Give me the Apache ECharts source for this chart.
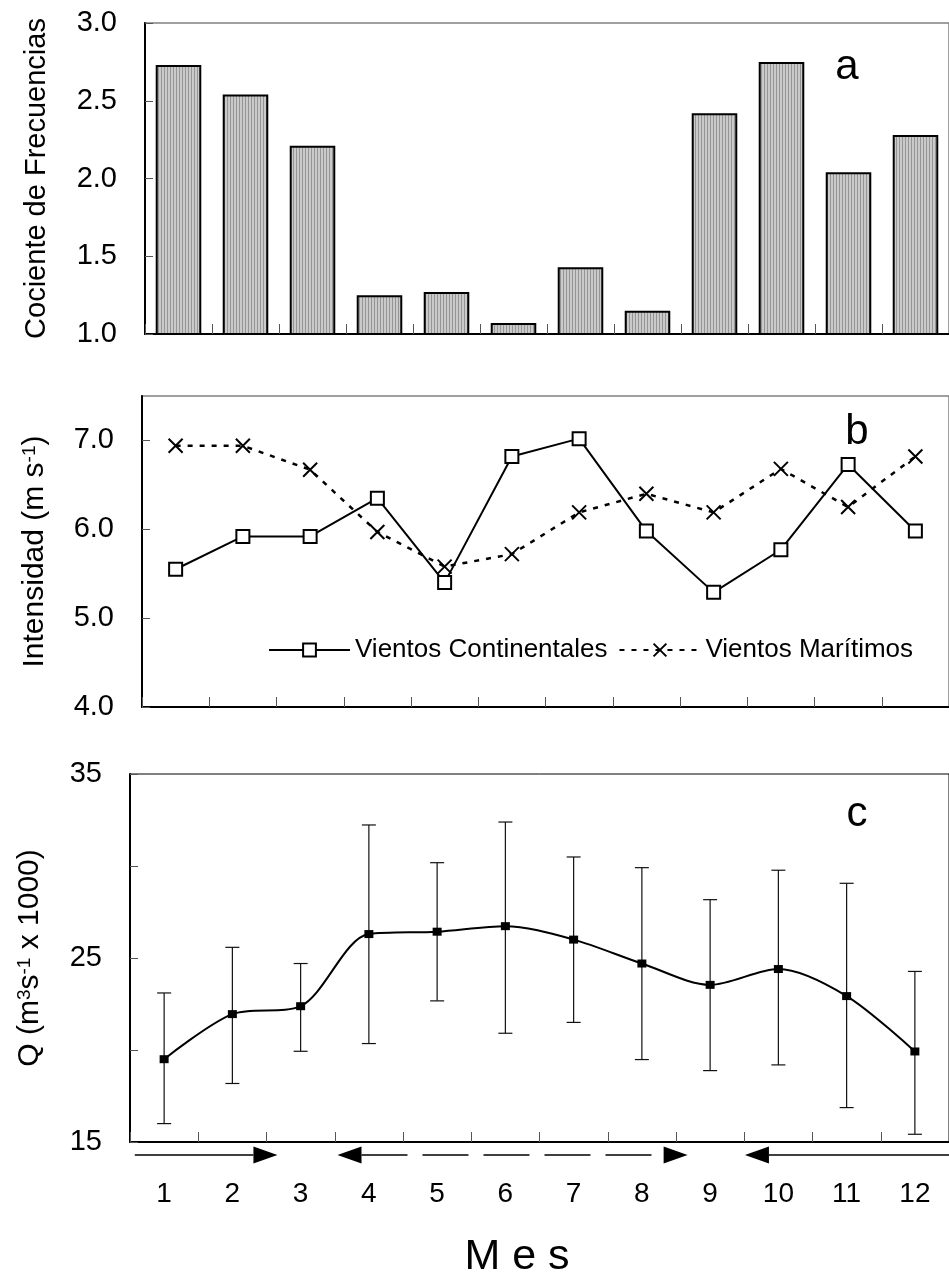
<!DOCTYPE html>
<html>
<head>
<meta charset="utf-8">
<script src="https://cdn.jsdelivr.net/npm/echarts@6/dist/echarts.min.js"></script>
<style>
    html, body { margin: 0; padding: 0; background: #fff; }
    #chart { width: 949px; height: 1276px; }
</style>
</head>
<body>
<div id="chart"></div>
<script>
// datos
const months = ['1', '2', '3', '4', '5', '6', '7', '8', '9', '10', '11', '12'];
const freqRatio = [2.73, 2.54, 2.21, 1.25, 1.27, 1.07, 1.43, 1.15, 2.42, 2.75, 2.04, 2.28];
const windContinental = [5.55, 5.92, 5.92, 6.35, 5.40, 6.82, 7.02, 5.98, 5.29, 5.77, 6.73, 5.98];
const windMaritime = [6.94, 6.94, 6.67, 5.97, 5.58, 5.72, 6.19, 6.40, 6.19, 6.68, 6.25, 6.82];
const flowMean = [19.5, 21.95, 22.38, 26.3, 26.43, 26.73, 26.0, 24.7, 23.54, 24.4, 22.93, 19.92];
const flowHigh = [23.1, 25.58, 24.7, 32.23, 30.18, 32.39, 30.49, 29.91, 28.17, 29.77, 29.06, 24.27];
const flowLow = [16.0, 18.18, 19.93, 20.35, 22.67, 20.91, 21.5, 19.48, 18.88, 19.19, 16.87, 15.42];
// periodos (en meses) marcados con flechas bajo el eje
const arrowFrom = [0.57, 3.54, 9.51];
const arrowTo = [2.66, 8.67, 12.5];

const FONT = '"Liberation Sans", Arial, sans-serif';

// relleno rayado de las barras
const pat = document.createElement('canvas');
pat.width = 3;
pat.height = 6;
const pctx = pat.getContext('2d');
pctx.fillStyle = '#cacaca';
pctx.fillRect(0, 0, 3, 6);
pctx.fillStyle = '#959595';
pctx.fillRect(2, 0, 1, 6);

const axisLineBlack = {show: true, lineStyle: {color: '#000', width: 2}};
const tickY = {show: true, inside: true, length: 8, lineStyle: {color: '#555', width: 1}};
const tickX = {show: true, inside: true, length: 10, interval: 0, lineStyle: {color: '#555', width: 1}};
const labelY = {color: '#000', fontSize: 29, fontFamily: FONT, margin: 28};
const nameStyle = {color: '#000', fontSize: 29, fontFamily: FONT};

let myChart = echarts.init(document.getElementById('chart'));

myChart.setOption({
    animation: false,
    backgroundColor: '#fff',
    textStyle: {fontFamily: FONT},
    grid: [
        {left: 145, top: 23, width: 812, height: 311, show: true, borderColor: '#808080', borderWidth: 1.5},
        {left: 142, top: 396, width: 816, height: 311, show: true, borderColor: '#808080', borderWidth: 1.5},
        {left: 130, top: 774, width: 828, height: 368, show: true, borderColor: '#000', borderWidth: 1}
    ],
    legend: {
        left: 268,
        top: 637,
        padding: 0,
        itemWidth: 81,
        itemHeight: 16,
        itemGap: 11,
        textStyle: {fontSize: 26, color: '#000', fontFamily: FONT},
        data: ['Vientos Continentales', 'Vientos Marítimos']
    },
    xAxis: [
        {type: 'category', gridIndex: 0, data: months, axisLine: axisLineBlack, axisTick: tickX, axisLabel: {show: false}},
        {type: 'category', gridIndex: 1, data: months, axisLine: axisLineBlack, axisTick: tickX, axisLabel: {show: false}},
        {
            type: 'category', gridIndex: 2, data: months, axisLine: axisLineBlack, axisTick: tickX,
            axisLabel: {color: '#000', fontSize: 28, fontFamily: FONT, margin: 38}
        },
        // eje auxiliar para colocar las flechas
        {type: 'value', gridIndex: 2, min: 0.5, max: 12.5, show: false}
    ],
    yAxis: [
        {
            type: 'value', gridIndex: 0, min: 1, max: 3, interval: 0.5,
            axisLine: axisLineBlack, axisTick: tickY, splitLine: {show: false},
            axisLabel: Object.assign({}, labelY, {formatter: v => v.toFixed(1)}),
            name: 'Cociente de Frecuencias', nameLocation: 'middle', nameRotate: 90, nameGap: 94,
            nameTextStyle: nameStyle
        },
        {
            type: 'value', gridIndex: 1, min: 4, max: 7.5, interval: 1,
            axisLine: axisLineBlack, axisTick: tickY, splitLine: {show: false},
            axisLabel: Object.assign({}, labelY, {showMaxLabel: false, formatter: v => v.toFixed(1)}),
            name: '{n|Intensidad (m s}{s|-1}{n|)}', nameLocation: 'middle', nameRotate: 90, nameGap: 92,
            nameTextStyle: Object.assign({}, nameStyle, {
                rich: {
                    n: {fontSize: 30, fontFamily: FONT, color: '#000'},
                    s: {fontSize: 19, fontFamily: FONT, color: '#000', verticalAlign: 'top'}
                }
            })
        },
        {
            type: 'value', gridIndex: 2, min: 15, max: 35, interval: 5,
            axisLine: axisLineBlack, axisTick: tickY, splitLine: {show: false},
            axisLabel: Object.assign({}, labelY, {formatter: v => ((v - 15) % 10 === 0 ? String(v) : '')}),
            name: '{n|Q (m}{s|3}{n|s}{s|-1}{n| x 1000)}', nameLocation: 'middle', nameRotate: 90, nameGap: 85,
            nameTextStyle: Object.assign({}, nameStyle, {
                rich: {
                    n: {fontSize: 30, fontFamily: FONT, color: '#000'},
                    s: {fontSize: 19, fontFamily: FONT, color: '#000', verticalAlign: 'top'}
                }
            })
        }
    ],
    series: [
        {
            name: 'Cociente',
            type: 'bar',
            xAxisIndex: 0,
            yAxisIndex: 0,
            barCategoryGap: '32%',
            data: freqRatio,
            itemStyle: {color: {image: pat, repeat: 'repeat'}, borderColor: '#000', borderWidth: 2}
        },
        {
            name: 'Vientos Continentales',
            type: 'line',
            xAxisIndex: 1,
            yAxisIndex: 1,
            data: windContinental,
            symbol: 'emptyRect',
            symbolSize: 13,
            lineStyle: {color: '#000', width: 2},
            itemStyle: {color: '#000'},
            z: 3
        },
        {
            name: 'Vientos Marítimos',
            type: 'line',
            xAxisIndex: 1,
            yAxisIndex: 1,
            data: windMaritime,
            symbol: 'path://M0,0L10,10M10,0L0,10',
            symbolSize: 14,
            lineStyle: {color: '#000', width: 2.5, type: [5, 7]},
            itemStyle: {color: '#000', borderColor: '#000', borderWidth: 2}
        },
        {
            name: 'Desviacion',
            type: 'custom',
            xAxisIndex: 2,
            yAxisIndex: 2,
            data: months.map((m, i) => [i, flowLow[i], flowHigh[i]]),
            renderItem: (params, api) => {
                const lo = api.coord([api.value(0), api.value(1)]);
                const hi = api.coord([api.value(0), api.value(2)]);
                const w = 7;
                const st = {stroke: '#111', lineWidth: 1.2};
                return {
                    type: 'group',
                    children: [
                        {type: 'line', shape: {x1: lo[0], y1: lo[1], x2: hi[0], y2: hi[1]}, style: st},
                        {type: 'line', shape: {x1: lo[0] - w, y1: lo[1], x2: lo[0] + w, y2: lo[1]}, style: st},
                        {type: 'line', shape: {x1: hi[0] - w, y1: hi[1], x2: hi[0] + w, y2: hi[1]}, style: st}
                    ]
                };
            }
        },
        {
            name: 'Caudal',
            type: 'line',
            xAxisIndex: 2,
            yAxisIndex: 2,
            data: flowMean,
            smooth: 0.3,
            symbol: 'rect',
            symbolSize: [9, 8],
            lineStyle: {color: '#000', width: 2},
            itemStyle: {color: '#000'},
            z: 5
        }
    ]
});

// letras de panel, titulo del eje y flechas
const yBase = myChart.convertToPixel({yAxisIndex: 2}, 15) + 13;
const px = v => myChart.convertToPixel({xAxisIndex: 3}, v);
const headLen = 24, headH = 8.5;
const tri = (tip, dir) => ({
    type: 'polygon',
    shape: {points: [[tip, yBase], [tip - dir * headLen, yBase - headH], [tip - dir * headLen, yBase + headH]]},
    style: {fill: '#000'}
});
const arrowStroke = {stroke: '#000', lineWidth: 1.3};
const a0 = px(arrowFrom[0]), b0 = px(arrowTo[0]);
const a1 = px(arrowFrom[1]), b1 = px(arrowTo[1]);
const a2 = px(arrowFrom[2]), b2 = px(arrowTo[2]);

const txt = (text, x, y, size) => ({
    type: 'text', x: x, y: y,
    style: {text: text, fontSize: size, fontFamily: FONT, fill: '#000', align: 'center', verticalAlign: 'middle'}
});

myChart.setOption({
    graphic: [
        txt('a', 847, 67, 42),
        txt('b', 857, 432, 42),
        txt('c', 857, 814, 42),
        txt('M e s', 517, 1257, 43),
        {type: 'line', shape: {x1: a0, y1: yBase, x2: b0 - headLen, y2: yBase}, style: arrowStroke},
        tri(b0, 1),
        {type: 'line', shape: {x1: a1 + headLen, y1: yBase, x2: b1 - headLen, y2: yBase},
            style: Object.assign({lineDash: [46, 15]}, arrowStroke)},
        tri(a1, -1),
        tri(b1, 1),
        {type: 'line', shape: {x1: a2 + headLen, y1: yBase, x2: b2, y2: yBase}, style: arrowStroke},
        tri(a2, -1)
    ]
});
</script>
</body>
</html>
